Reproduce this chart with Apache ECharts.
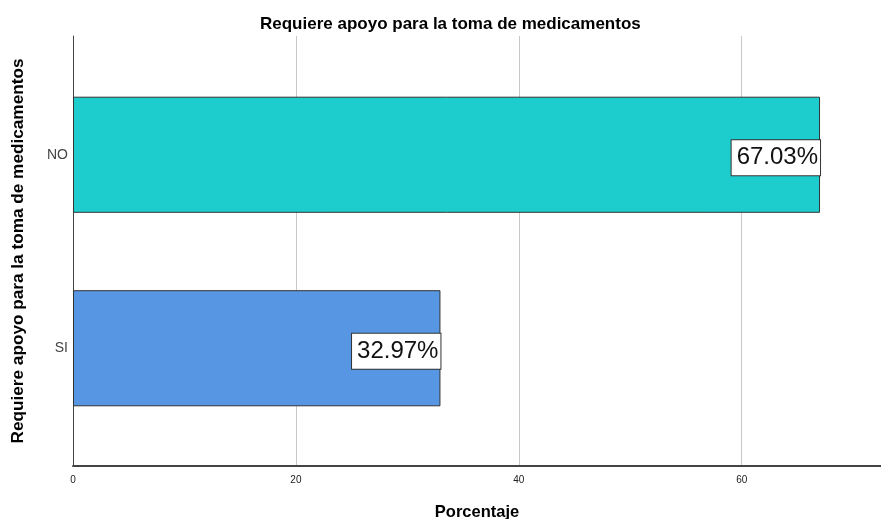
<!DOCTYPE html>
<html>
<head>
<meta charset="utf-8">
<script src="https://cdn.jsdelivr.net/npm/echarts@6/dist/echarts.min.js"></script>
<style>
html,body{margin:0;padding:0;background:#fff;}
#chart{width:881px;height:519px;}
</style>
</head>
<body>
<div id="chart"></div>
<script>
const categories = ['SI', 'NO'];
const percentages = [32.97, 67.03];
const barColors = ['#5696e3', '#1dcdcd'];
const chartTitle = 'Requiere apoyo para la toma de medicamentos';
const yAxisName = 'Requiere apoyo para la toma de medicamentos';
const xAxisName = 'Porcentaje';

const FONT = 'Liberation Sans, Arial, sans-serif';
const chart = echarts.init(document.getElementById('chart'), null, {renderer: 'canvas'});
chart.setOption({
  animation: false,
  backgroundColor: '#fff',
  title: {
    text: chartTitle,
    left: 255, top: 11,
    textStyle: {fontFamily: FONT, fontSize: 17, fontWeight: 'bold', color: '#000'}
  },
  grid: [
    {left: 73, right: 0, top: 58, height: 387, outerBoundsMode: 'none', containLabel: false},
    {left: 73, right: 0, top: 36, height: 430, outerBoundsMode: 'none', containLabel: false}
  ],
  xAxis: [
    {gridIndex: 0, type: 'value', min: 0, max: 72.5, show: false},
    {
      gridIndex: 1, type: 'value', min: 0, max: 72.5, interval: 20,
      axisLine: {show: true, lineStyle: {color: '#444', width: 2}},
      axisTick: {show: false},
      splitLine: {show: true, lineStyle: {color: '#c8c8c8', width: 1}},
      axisLabel: {
        fontFamily: FONT, fontSize: 10, color: '#222', margin: 9,
        formatter: v => (v % 20 === 0 ? String(v) : '')
      },
      name: xAxisName, nameLocation: 'middle', nameGap: 38,
      nameTextStyle: {fontFamily: FONT, fontSize: 16.5, fontWeight: 'bold', color: '#000'}
    }
  ],
  yAxis: [
    {
      gridIndex: 0, type: 'category', data: categories,
      axisLine: {show: false}, axisTick: {show: false}, splitLine: {show: false},
      axisLabel: {fontFamily: FONT, fontSize: 14, color: '#444', margin: 5}
    },
    {
      gridIndex: 1, type: 'value', min: 0, max: 1,
      axisLine: {show: true, lineStyle: {color: '#444', width: 1}},
      axisTick: {show: false}, axisLabel: {show: false}, splitLine: {show: false},
      name: yAxisName, nameLocation: 'middle', nameGap: 46, nameRotate: 90,
      nameTextStyle: {fontFamily: FONT, fontSize: 17.2, fontWeight: 'bold', color: '#000'}
    }
  ],
  series: [{
    type: 'bar', xAxisIndex: 0, yAxisIndex: 0,
    barWidth: '60%',
    data: percentages.map((v, i) => ({
      value: v,
      itemStyle: {color: barColors[i], borderColor: '#333', borderWidth: 1}
    })),
    label: {
      show: true, position: 'insideRight', distance: 0, offset: [0, 3],
      formatter: p => p.value.toFixed(2) + '%',
      fontFamily: FONT, fontSize: 24, color: '#111',
      backgroundColor: '#fff', borderColor: '#333', borderWidth: 1,
      padding: [6, 2, 5, 5]
    }
  }]
});
</script>
</body>
</html>
